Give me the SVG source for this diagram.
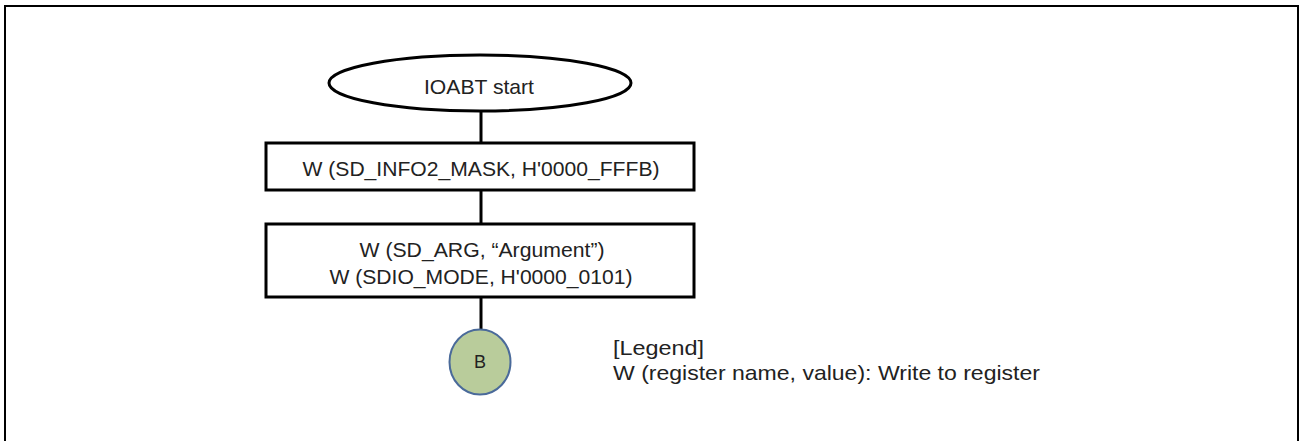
<svg xmlns="http://www.w3.org/2000/svg" width="1300" height="441" viewBox="0 0 1300 441">
<style>
text{font-family:"Liberation Sans",Arial,sans-serif;font-size:21px;fill:#222}
.c{text-anchor:middle}
.shape{fill:#fff;stroke:#000;stroke-width:3}
.conn{stroke:#000;stroke-width:3;fill:none}
</style>
<rect x="5" y="6" width="1293" height="445" fill="none" stroke="#000" stroke-width="2"/>
<g id="connectors">
<line class="conn" x1="481" y1="111" x2="481" y2="143"/>
<line class="conn" x1="481" y1="190" x2="481" y2="224"/>
<line class="conn" x1="481" y1="297" x2="481" y2="330"/>
</g>
<g id="start">
<ellipse class="shape" cx="480" cy="83" rx="151" ry="28"/>
<text class="c" x="479" y="94" textLength="110" lengthAdjust="spacingAndGlyphs">IOABT start</text>
</g>
<g id="box1">
<rect class="shape" x="266" y="143" width="428" height="47"/>
<text class="c" x="481" y="176" textLength="357" lengthAdjust="spacingAndGlyphs">W (SD_INFO2_MASK, H'0000_FFFB)</text>
</g>
<g id="box2">
<rect class="shape" x="266" y="224" width="428" height="73"/>
<text class="c" x="482" y="257" textLength="245" lengthAdjust="spacingAndGlyphs">W (SD_ARG, “Argument”)</text>
<text class="c" x="481" y="284" textLength="303" lengthAdjust="spacingAndGlyphs">W (SDIO_MODE, H'0000_0101)</text>
</g>
<g id="connB">
<ellipse cx="480" cy="362" rx="30.5" ry="32.5" fill="#b9cc9b" stroke="#4a6a9a" stroke-width="2"/>
<text class="c" x="480" y="368" style="font-size:18px">B</text>
</g>
<g id="legend">
<text x="613" y="355" textLength="91" lengthAdjust="spacingAndGlyphs">[Legend]</text>
<text x="613" y="380" textLength="427" lengthAdjust="spacingAndGlyphs">W (register name, value): Write to register</text>
</g>
</svg>
